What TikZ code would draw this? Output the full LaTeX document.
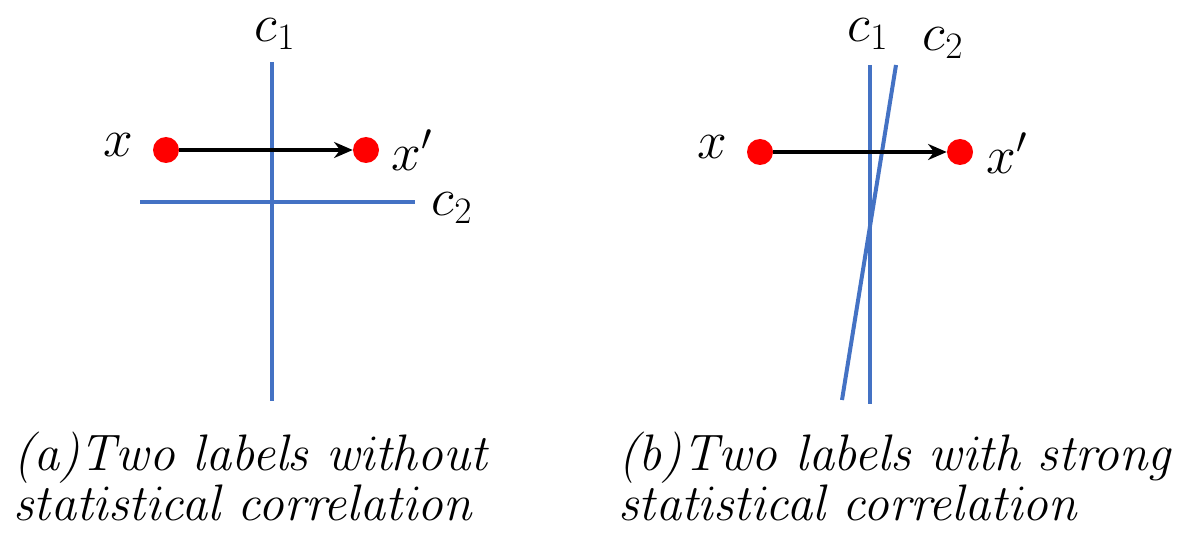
\documentclass[tikz,border=0pt]{standalone}
\usepackage{fix-cm}
\usetikzlibrary{arrows.meta}
\definecolor{lineblue}{RGB}{68,114,196}
\newcommand{\capfont}{\fontencoding{OT1}\fontfamily{cmr}\fontseries{m}\fontshape{it}\fontsize{38.5}{32.5}\selectfont}
\tikzset{
  cline/.style={draw=lineblue, line width=3pt},
  dot/.style={circle, fill=red, inner sep=0pt, minimum size=19.5pt},
  mathlbl/.style={font=\fontsize{40}{44}\selectfont, inner sep=0pt},
  caption/.style={font=\capfont, inner sep=0pt, anchor=base west, align=left},
  movearrow/.style={draw=black, line width=3pt, -{Stealth[length=14pt,width=12pt]}}
}
\begin{document}
\begin{tikzpicture}[x=0.75pt,y=-0.75pt]
\useasboundingbox (0,0) rectangle (1179,549);
% panel (a)
\coordinate (a1t) at (272,62);
\coordinate (a1b) at (272,401);
\coordinate (a2l) at (140,202);
\coordinate (a2r) at (415,202);
\draw[cline] (a1t) -- (a1b);
\draw[cline] (a2l) -- (a2r);
\node[dot] (ax) at (166,150) {};
\node[dot] (axp) at (366,150) {};
\draw[movearrow] (ax.east) -- (axp.west);
\node[mathlbl] (lax) at (118,145) {$x$};
\node[mathlbl] (laxp) at (412,150) {$x'$};
\node[mathlbl] (lac1) at (275,34) {$c_1$};
\node[mathlbl] (lac2) at (452,208) {$c_2$};
\node[caption] (capa) at (13,520) {(a)Two labels without\\statistical correlation};
% panel (b)
\coordinate (b1t) at (870,65);
\coordinate (b1b) at (870,404);
\coordinate (b2t) at (896,65);
\coordinate (b2b) at (842,400);
\draw[cline] (b1t) -- (b1b);
\draw[cline] (b2t) -- (b2b);
\node[dot] (bx) at (760,152) {};
\node[dot] (bxp) at (960,152) {};
\draw[movearrow] (bx.east) -- (bxp.west);
\node[mathlbl] (lbx) at (712,147) {$x$};
\node[mathlbl] (lbxp) at (1007,153) {$x'$};
\node[mathlbl] (lbc1) at (868,34) {$c_1$};
\node[mathlbl] (lbc2) at (943,43) {$c_2$};
\node[caption] (capb) at (618,520) {(b)Two labels with strong\\statistical correlation};
\end{tikzpicture}
\end{document}
